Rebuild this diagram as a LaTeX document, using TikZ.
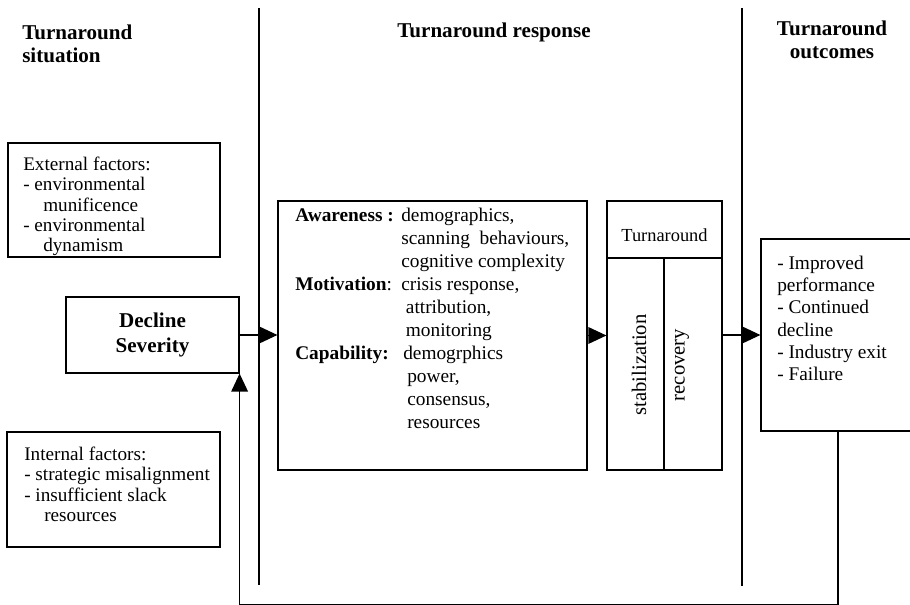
\documentclass[tikz,border=0pt]{standalone}
\usepackage{fontspec}
\setmainfont{Liberation Serif}
\usetikzlibrary{arrows.meta, positioning, fit}

\begin{document}
\begin{tikzpicture}[
        x=0.75pt, y=-0.75pt,
        box/.style={rectangle, draw, line width=0.9pt, inner sep=0pt},
        txt/.style={inner sep=0pt, align=left, font=\fontsize{14.4}{15.3}\selectfont},
        head/.style={inner sep=0pt, font=\fontsize{15.8}{17.25}\selectfont\bfseries},
        divider/.style={line width=1.4pt},
        arr/.style={-{Triangle[length=13.5pt, width=12.5pt]}, line width=0.9pt}
    ]
    \useasboundingbox (0,0) rectangle (910,605);
    \clip (0,0) rectangle (910,605);

    % Headings
    \node[head, anchor=west, align=left] (sit) at (22,43.5) {Turnaround\\situation};
    \node[head] (resp) at (494,32) {Turnaround response};
    \node[head, align=center] (outc) at (832,39.5) {Turnaround\\outcomes};

    % Dividers
    \draw[divider] (259,8) -- (259,585);
    \draw[divider] (742,8) -- (742,586);

    % Situation
    \node[box, fit={(8,143) (220,257)}] (ext) {};
    \node[txt, anchor=west] (exttxt) at (23,206.5) {External factors:\\- environmental\\\hspace*{15pt}munificence\\- environmental\\\hspace*{15pt}dynamism};
    \node[box, fit={(66,297) (239,373)}] (decline) {};
    \node[head, align=center, font=\fontsize{15.8}{18.75}\selectfont\bfseries] (declinetxt) at (152.5,334.5) {Decline\\Severity};
    \node[box, fit={(7,432) (220,547)}] (int) {};
    \node[txt, anchor=west] (inttxt) at (24,484.5) {Internal factors:\\- strategic misalignment\\- insufficient slack\\\hspace*{15pt}resources};

    % Response
    \node[box, fit={(278,201) (587,470)}] (response) {};
    \node[txt, anchor=west, font=\fontsize{14.5}{17.25}\selectfont] (resptxt) at (295,318.5) {%
        \makebox[79.5pt][l]{\textbf{Awareness :}}demographics,\\
        \hspace*{79.5pt}scanning\ \ behaviours,\\
        \hspace*{79.5pt}cognitive complexity\\
        \makebox[79.5pt][l]{\textbf{Motivation}:}crisis response,\\
        \hspace*{83pt}attribution,\\
        \hspace*{83pt}monitoring\\
        \makebox[81pt][l]{\textbf{Capability:}}demogrphics\\
        \hspace*{84pt}power,\\
        \hspace*{84pt}consensus,\\
        \hspace*{84pt}resources};

    \node[box, fit={(607,201) (722,258)}] (turn) {};
    \node[inner sep=0pt, font=\fontsize{13.8}{15}\selectfont] (turntxt) at (664.5,235) {Turnaround};
    \node[box, fit={(607,258) (664,470)}] (stab) {};
    \node[box, fit={(664,258) (722,470)}] (recov) {};
    \node[inner sep=0pt, rotate=90, font=\fontsize{15.5}{17}\selectfont] (stabtxt) at (639,365) {stabilization};
    \node[inner sep=0pt, rotate=90, font=\fontsize{15.5}{17}\selectfont] (recovtxt) at (682,365) {recovery};

    % Outcomes
    \node[box, fit={(761,239) (915,431)}] (outcome) {};
    \node[txt, anchor=west, font=\fontsize{14.5}{16.7}\selectfont] (outtxt) at (777,318.5) {- Improved\\performance\\- Continued\\decline\\- Industry exit\\- Failure};

    % Flow
    \draw[arr] (decline.east) -- (decline.east -| response.west);
    \draw[arr] (response.east) -- (response.east -| stab.west);
    \draw[arr] (recov.east |- outcome.west) -- (outcome.west);
    \draw[arr] (outcome.south) -- ++(0,172.5) -| (decline.south east);

\end{tikzpicture}
\end{document}
